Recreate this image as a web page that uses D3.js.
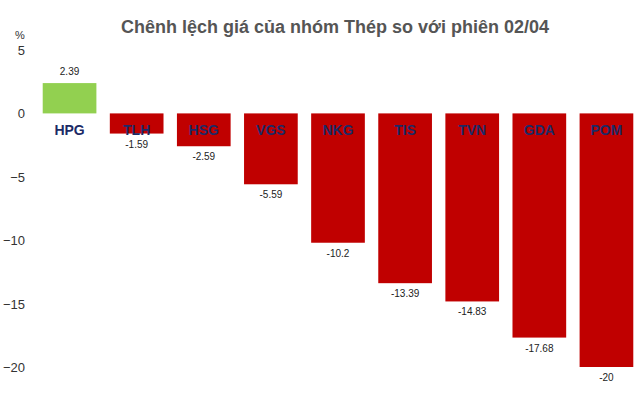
<!DOCTYPE html><html><head><meta charset="utf-8"><script src="https://cdn.jsdelivr.net/npm/d3@7"></script>
<style>body{margin:0;background:#fff}</style></head><body><svg width="640" height="412"></svg>
<script>
const categories=["HPG","TLH","HSG","VGS","NKG","TIS","TVN","GDA","POM"];
const values=[2.39,-1.59,-2.59,-5.59,-10.2,-13.39,-14.83,-17.68,-20];
const labels=["2.39","-1.59","-2.59","-5.59","-10.2","-13.39","-14.83","-17.68","-20"];
const yTicks=[5,0,-5,-10,-15,-20];
const svg=d3.select("svg");
const f="Helvetica, Arial, 'Liberation Sans', sans-serif";
const x=d3.scaleBand().domain(categories).range([36,640]).paddingInner(0.2).paddingOuter(0.1);
const y=d3.scaleLinear().domain([-20,5]).range([367,50]);
svg.append("text").attr("x",335).attr("y",33).attr("text-anchor","middle").attr("font-family",f).attr("font-weight","bold").attr("font-size",18).attr("fill","#555").text("Chênh lệch giá của nhóm Thép so với phiên 02/04");
svg.append("text").attr("x",20).attr("y",39).attr("text-anchor","middle").attr("font-family",f).attr("font-size",11).attr("fill","#333").text("%");
const ax=svg.append("g").attr("transform","translate(28,0)").call(d3.axisLeft(y).tickValues(yTicks).tickSize(0).tickFormat(d3.format("d")));
ax.select(".domain").remove();
ax.selectAll("text").attr("font-family",f).attr("font-size",13).attr("fill","#333").attr("dy","0.35em");
svg.selectAll("rect.b").data(values).join("rect").attr("x",(d,i)=>x(categories[i])).attr("width",x.bandwidth())
 .attr("y",d=>y(Math.max(0,d))).attr("height",d=>Math.abs(y(d)-y(0))).attr("fill",d=>d>0?"#92d050":"#c00000");
svg.selectAll("text.v").data(values).join("text").attr("x",(d,i)=>x(categories[i])+x.bandwidth()/2)
 .attr("y",d=>d>0?y(d)-8:y(d)+14).attr("text-anchor","middle").attr("font-family",f).attr("font-size",10).attr("fill","#222").text((d,i)=>labels[i]);
svg.selectAll("text.c").data(categories).join("text").attr("x",d=>x(d)+x.bandwidth()/2).attr("y",y(0)+22)
 .attr("text-anchor","middle").attr("font-family",f).attr("font-weight","bold").attr("font-size",14).attr("fill","#1c2a66").text(d=>d);
</script></body></html>
